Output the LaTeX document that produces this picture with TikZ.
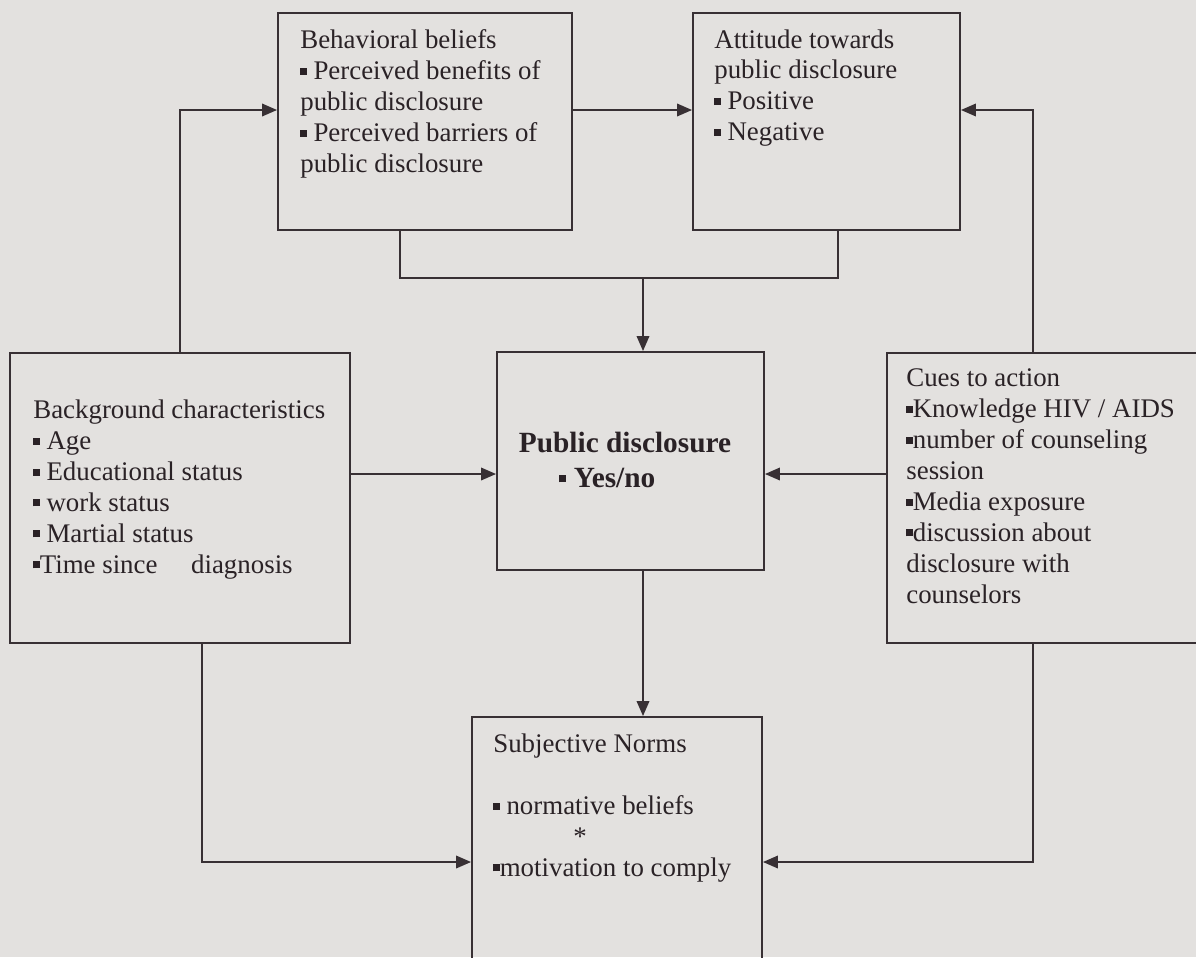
\documentclass[tikz,border=0pt]{standalone}
\usepackage{fontspec}
\setmainfont{Liberation Serif}
\usetikzlibrary{arrows.meta}
\definecolor{paper}{HTML}{E3E1DF}
\definecolor{ink}{HTML}{383034}
\definecolor{tink}{HTML}{2A2226}
\newcommand{\sqb}{\rule[0.18em]{0.24em}{0.26em}}

\begin{document}
\begin{tikzpicture}[x=0.02cm,y=-0.02cm,
  box/.style={draw=ink,line width=1.1pt,inner sep=0pt},
  txt/.style={text=tink,align=left,inner sep=0pt,anchor=north west,font=\fontsize{15.3}{17.6}\selectfont},
  arr/.style={draw=ink,line width=1.1pt,-{Triangle[length=0.3cm,width=0.25cm]}},
  lnk/.style={draw=ink,line width=1.1pt}]
\useasboundingbox (0,0) rectangle (1196,957);
\fill[paper] (0,0) rectangle (1196,957);
\clip (0,0) rectangle (1196,957);

% boxes
\node[box,minimum width=5.88cm,minimum height=4.34cm] (beh) at (425,121.5) {};
\node[box,minimum width=5.34cm,minimum height=4.34cm] (att) at (826.5,121.5) {};
\node[box,minimum width=6.8cm,minimum height=5.8cm] (bg) at (180,498) {};
\node[box,minimum width=6.26cm,minimum height=5.8cm] (cue) at (1043.5,498) {};
\node[box,minimum width=5.34cm,minimum height=4.36cm] (pub) at (630.5,461) {};
\node[box,minimum width=5.8cm,minimum height=5.2cm] (sub) at (617,847) {};

% texts
\node[txt] (behtxt) at (300,29.5) {Behavioral beliefs\\
  \sqb{} Perceived benefits of\\ public disclosure\\
  \sqb{} Perceived barriers of\\ public disclosure};
\node[txt] (atttxt) at (714,29) {Attitude towards\\ public disclosure\\
  \sqb{} Positive\\ \sqb{} Negative};
\node[txt] (bgtxt) at (33,399.5) {Background characteristics\\
  \sqb{} Age\\ \sqb{} Educational status\\ \sqb{} work status\\
  \sqb{} Martial status\\ \sqb Time since\hspace{1em} diagnosis};
\node[txt] (cuetxt) at (906,368.5) {Cues to action\\ \sqb Knowledge HIV / AIDS\\
  \sqb number of counseling\\ session\\ \sqb Media exposure\\
  \sqb discussion about\\ disclosure with\\ counselors};
\node[text=tink,align=center,inner sep=0pt,anchor=north,
  font=\fontsize{16.7}{19.9}\selectfont\bfseries] (pubtxt) at (625,432)
  {Public disclosure\\ \sqb{} Yes/no\hspace*{1.2em}};
\node[txt] (subtxt) at (493,733.5) {Subjective Norms\\[17.6pt]
  \sqb{} normative beliefs\\ \hspace*{1.6cm}*\\ \sqb motivation to comply};

% connectors
\coordinate (tl) at (180,110);
\coordinate (tr) at (1033,110);
\coordinate (bL) at (400,278);
\coordinate (aR) at (838,278);
\coordinate (mid) at (643,278);
\coordinate (hy) at (0,474);
\coordinate (bl) at (202,862);
\coordinate (br) at (1033,862);
\draw[arr] (bg.north) |- (beh.west |- tl);
\draw[arr] (beh.east |- tl) -- (att.west |- tl);
\draw[arr] (cue.north -| tr) |- (att.east |- tr);
\draw[lnk] (beh.south -| bL) -- (bL) -- (aR) -- (att.south -| aR);
\draw[arr] (mid) -- (pub.north -| mid);
\draw[arr] (bg.east |- hy) -- (pub.west |- hy);
\draw[arr] (cue.west |- hy) -- (pub.east |- hy);
\draw[arr] (pub.south -| mid) -- (sub.north -| mid);
\draw[arr] (bg.south -| bl) |- (sub.west |- bl);
\draw[arr] (cue.south -| br) |- (sub.east |- br);
\end{tikzpicture}
\end{document}
